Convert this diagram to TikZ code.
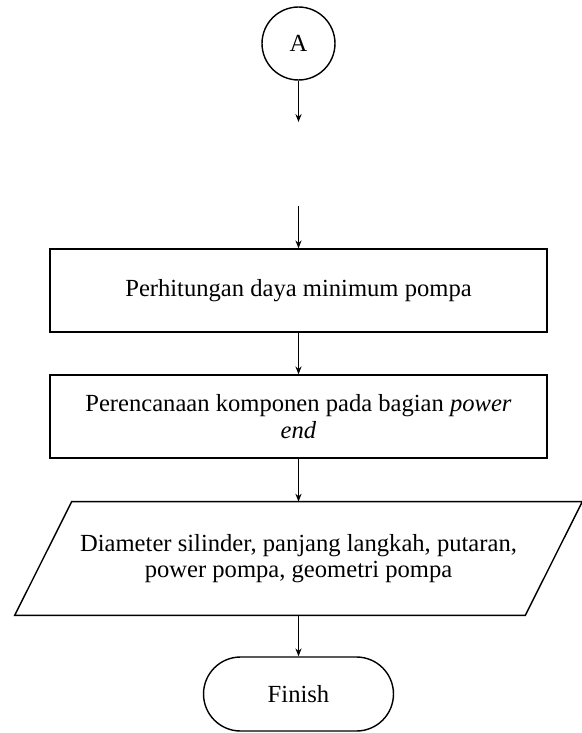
\documentclass[tikz,border=0pt]{standalone}
\usepackage{fontspec}
\setmainfont{Liberation Serif}
\usepackage{tikz}
\usetikzlibrary{arrows.meta}
\tikzset{>={Stealth[length=4.5pt,width=3.5pt]}}
\tikzset{
  flow line/.style={->,line width=0.8pt},
  conn circle/.style={circle,draw,line width=0.8pt,minimum size=1.46cm,inner sep=0pt},
  proc box/.style={rectangle,draw,line width=0.8pt,minimum width=9.94cm,minimum height=1.66cm,align=center,inner sep=0pt},
  io box/.style={rectangle,minimum width=10.2cm,minimum height=2.26cm,align=center,inner sep=0pt},
  term box/.style={rectangle,draw,line width=0.8pt,rounded corners=0.74cm,minimum width=3.8cm,minimum height=1.48cm,inner sep=0pt}
}
\begin{document}
\begin{tikzpicture}[x=0.02cm,y=-0.02cm,font=\fontsize{14}{15}\selectfont]
    \useasboundingbox (0,0) rectangle (581,733);
    % connector and blocks
    \node[conn circle] (conA) at (298.5,43.5) {A};
    \coordinate (endA) at (298.5,122);
    \coordinate (startB) at (298.5,206);
    \node[proc box] (daya) at (298.5,290.5) {Perhitungan daya minimum pompa};
    \node[proc box] (komponen) at (298.5,416.5) {Perencanaan komponen pada bagian \textit{power}\\ \textit{end}};
    \node[io box] (hasil) at (298.5,558.5) {Diameter silinder, panjang langkah, putaran,\\ power pompa, geometri pompa};
    \draw[line width=0.8pt] ([xshift=0.57cm]hasil.north west) -- ([xshift=0.57cm]hasil.north east)
        -- ([xshift=-0.57cm]hasil.south east) -- ([xshift=-0.57cm]hasil.south west) -- cycle;
    \node[term box] (finish) at (298.5,694) {Finish};
    % arrows
    \draw[flow line] (conA) -- (endA);
    \draw[flow line] (startB) -- (daya);
    \draw[flow line] (daya) -- (komponen);
    \draw[flow line] (komponen) -- (hasil);
    \draw[flow line] (hasil) -- (finish);
\end{tikzpicture}
\end{document}
